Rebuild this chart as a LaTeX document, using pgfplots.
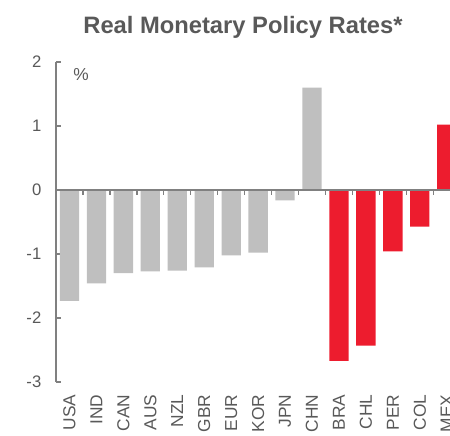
\documentclass[border=0pt]{standalone}
\usepackage{pgfplots}
\pgfplotsset{compat=1.18}
\usepackage{fontspec}
\setmainfont{Liberation Sans}
\definecolor{txt}{HTML}{595959}
\definecolor{axgray}{HTML}{808080}
\definecolor{bargray}{HTML}{BFBFBF}
\definecolor{barred}{HTML}{ED1C2E}
\begin{document}
\begin{tikzpicture}
\begin{axis}[
  x=20.21pt, y=48pt,
  xmin=-0.5, xmax=14.5, ymin=-3, ymax=2,
  clip=false,
  axis y line=left, axis x line=bottom,
  x axis line style={draw=none},
  y axis line style={-, draw=axgray, line width=1.1pt},
  ytick={-3,-2,-1,0,1,2},
  ytick style={draw=axgray, line width=1pt},
  tick align=inside,
  major tick length=4pt,
  xtick={0,...,14},
  xticklabels={USA,IND,CAN,AUS,NZL,GBR,EUR,KOR,JPN,CHN,BRA,CHL,PER,COL,MEX},
  xtick style={draw=none},
  xticklabel style={rotate=90, anchor=east, font=\fontsize{13}{13}\selectfont, text=txt},
  xticklabel shift=6pt,
  yticklabel style={font=\fontsize{12.5}{12.5}\selectfont, text=txt},
  yticklabel shift=7.5pt,
  /pgf/number format/assume math mode=true,
]
\addplot[ybar, bar width=14.5pt, fill=bargray, draw=none] coordinates {
  (0,-1.73) (1,-1.46) (2,-1.30) (3,-1.27) (4,-1.26) (5,-1.21) (6,-1.02) (7,-0.98) (8,-0.16) (9,1.60)
};
\addplot[ybar, bar width=14.5pt, fill=barred, draw=none] coordinates {
  (10,-2.67) (11,-2.43) (12,-0.96) (13,-0.57) (14,1.02)
};
\draw[axgray, line width=1.1pt] (axis cs:-0.5,0) -- (axis cs:14.5,0);
\pgfplotsinvokeforeach{0.5,1.5,...,14.5}{\draw[axgray, line width=1pt] (axis cs:#1,0) -- ([yshift=-4pt]axis cs:#1,0);}
\node[text=txt, font=\fontsize{13}{13}\selectfont] at (axis cs:0.43,1.80) {\%};
\node[text=txt, font=\fontsize{17.8}{17.8}\selectfont\bfseries, anchor=base] at (axis cs:6.44,2.453) {Real Monetary Policy Rates*};
\coordinate (bbll) at (axis cs:-2.578,-3.828);
\coordinate (bbur) at (axis cs:14.12,2.969);
\end{axis}
\pgfresetboundingbox
\path[use as bounding box] (bbll) rectangle (bbur);
\end{tikzpicture}
\end{document}
